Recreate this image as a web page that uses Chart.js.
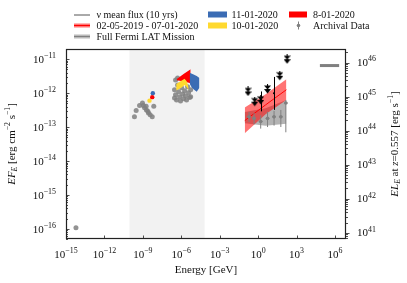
<!DOCTYPE html>
<html>
<head>
<meta charset="utf-8">
<script src="https://cdn.jsdelivr.net/npm/chart.js@4.4.0/dist/chart.umd.min.js"></script>
<style>
  html, body { margin: 0; padding: 0; background: #fff; }
  canvas { display: block; }
</style>
</head>
<body>
<canvas id="sedChart" width="407" height="283"></canvas>
<script>
// energies in GeV, fluxes in erg cm^-2 s^-1
const seriesLabels = ['\u03bd mean flux (10 yrs)', '02-05-2019 - 07-01-2020', 'Full Fermi LAT Mission',
                      '11-01-2020', '10-01-2020', '8-01-2020', 'Archival Data'];

// archival data (radio, optical, X-ray)
const archE = [6.0e-15,
  2.2e-10, 3.0e-10, 5.5e-10, 9.3e-10, 1.1e-9, 1.35e-9, 1.8e-9, 1.9e-9, 2.45e-9, 2.75e-9, 3.7e-9, 5.4e-9, 7.1e-9,
  2.95e-7, 3.55e-7, 4.27e-7, 5.13e-7, 6.17e-7, 7.41e-7, 8.7e-7, 1.05e-6, 1.26e-6, 1.51e-6, 1.82e-6,
  2.14e-6, 2.57e-6, 3.09e-6, 3.72e-6, 4.47e-6, 5.37e-6, 3.55e-7, 5.13e-7, 5.37e-6, 2.95e-7];
const archF = [1.07e-16,
  2.0e-13, 3.1e-13, 4.3e-13, 5.1e-13, 4.3e-13, 3.7e-13, 4.1e-13, 3.2e-13, 2.9e-13, 2.6e-13, 2.3e-13, 2.0e-13, 4.1e-13,
  1.26e-12, 8.9e-13, 6.3e-13, 1.74e-12, 1.10e-12, 7.8e-13, 5.9e-13, 1.45e-12, 9.5e-13, 6.8e-13, 1.17e-12,
  8.3e-13, 6.3e-13, 1.55e-12, 1.02e-12, 7.4e-13, 1.26e-12, 2.45e-12, 2.8e-12, 7.8e-13, 7.2e-13];

// archival gamma-ray points with error bars
const gamE   = [0.195, 0.48, 1.58, 5.4, 17.4, 59, 145];
const gamElo = [0.14, 0.34, 1.1, 3.8, 12.3, 42, 103];
const gamEhi = [0.27, 0.68, 2.2, 7.6, 24.6, 83, 205];
const gamF   = [2.0e-13, 1.8e-13, 1.45e-13, 1.8e-13, 2.0e-13, 2.0e-13, 5.1e-13];
const gamFlo = [1.4e-13, 1.2e-13, 9.0e-14, 1.0e-13, 1.1e-13, 1.0e-13, 7.0e-14];
const gamFhi = [2.8e-13, 2.6e-13, 2.2e-13, 2.8e-13, 3.0e-13, 3.2e-13, 6.3e-13];

// black upper limits and detections
const ulE = [0.162, 0.537, 1.58, 5.37, 49, 182];
const ulF = [1.12e-12, 5.6e-13, 6.3e-13, 1.32e-12, 3.24e-12, 1.0e-11];
const detE = [1.58, 17];
const detF = [6.3e-13, 1.0e-12];
const detFlo = [2.9e-13, 3.2e-13];
const detFhi = [1.12e-12, 3.0e-12];

// Fermi-LAT butterflies
const bowE = [0.09, 3.8, 160];
const redBowUp = [3.8e-13, 9.3e-13, 2.57e-12];
const redBowLo = [6.6e-14, 2.4e-13, 6.3e-13];
const redBowMid = [1.55e-13, 4.5e-13, 1.26e-12];
const greyBowUp = [2.8e-13, 3.6e-13, 6.3e-13];
const greyBowLo = [1.3e-13, 1.1e-13, 1.26e-13];

// neutrino mean flux
const nuE = [6.6e4, 2.1e6];
const nuF = [6.5e-12, 6.5e-12];

// X-ray spectra per epoch
const blueE = [4.5e-6, 6.8e-6, 1.0e-5, 1.6e-5, 2.6e-5];
const blueUp = [4.0e-12, 3.7e-12, 3.5e-12, 3.2e-12, 2.8e-12];
const blueLo = [1.9e-12, 1.45e-12, 1.26e-12, 1.1e-12, 1.45e-12];
const yellowE = [4.0e-7, 1.0e-6, 1.8e-6, 2.7e-6, 3.7e-6];
const yellowUp = [1.85e-12, 2.3e-12, 2.65e-12, 2.2e-12, 1.5e-12];
const yellowLo = [1.2e-12, 1.45e-12, 1.75e-12, 1.5e-12, 1.2e-12];
const redXE = [4.5e-7, 1.6e-6, 5.4e-6];
const redXUp = [2.6e-12, 3.7e-12, 5.1e-12];
const redXLo = [2.4e-12, 2.2e-12, 1.95e-12];

// optical/UV points per epoch
const blueOptE = [6.0e-9], blueOptF = [1.0e-12];
const redOptE = [5.4e-9], redOptF = [7.6e-13];
const yellowOptE = [3.3e-9], yellowOptF = [6.0e-13];

const shadeRange = [9e-11, 6.6e-5];

const xTickVals = [1e-15, 1e-12, 1e-9, 1e-6, 1e-3, 1, 1e3, 1e6];
const xTickLabels = ['10^\u221215', '10^\u221212', '10^\u22129', '10^\u22126', '10^\u22123', '10^0', '10^3', '10^6'];
const yTickVals = [1e-16, 1e-15, 1e-14, 1e-13, 1e-12, 1e-11];
const yTickLabels = ['10^\u221216', '10^\u221215', '10^\u221214', '10^\u221213', '10^\u221212', '10^\u221211'];
const y2TickVals = [1e41, 1e42, 1e43, 1e44, 1e45, 1e46];
const y2TickLabels = ['10^41', '10^42', '10^43', '10^44', '10^45', '10^46'];

const FONT = '"Liberation Serif", "Times New Roman", serif';
const BLUE = '#3b6cb4', YELLOW = '#ffd92f', RED = '#ff0000', GREY = '#808080';

function pts(xs, ys) { return xs.map((x, i) => ({x: x, y: ys[i]})); }

function makeArrow() {
    const c = document.createElement('canvas');
    c.width = 7; c.height = 10;
    const g = c.getContext('2d');
    g.fillStyle = '#000';
    g.fillRect(3, 0, 1, 2);
    g.beginPath(); g.moveTo(0, 1.5); g.lineTo(7, 1.5); g.lineTo(3.5, 5.5); g.closePath(); g.fill();
    g.beginPath(); g.moveTo(0, 5); g.lineTo(7, 5); g.lineTo(3.5, 9.5); g.closePath(); g.fill();
    return c;
}

function partFont(p, size) {
    return (p.it ? 'italic ' : '') + (size * (p.k || 1)).toFixed(2) + 'px ' + FONT;
}

// draws text made of pieces (italic, sub/superscripts); y is the middle of the base text
function drawRich(ctx, parts, size, x, y, align, rot) {
    ctx.save();
    ctx.translate(x, y);
    if (rot) ctx.rotate(rot);
    const widths = parts.map(p => { ctx.font = partFont(p, size); return ctx.measureText(p.t).width; });
    const total = widths.reduce((a, b) => a + b, 0);
    let cx = align === 'right' ? -total : (align === 'left' ? 0 : -total / 2);
    ctx.textAlign = 'left';
    ctx.textBaseline = 'alphabetic';
    ctx.fillStyle = '#111';
    parts.forEach((p, i) => {
        ctx.font = partFont(p, size);
        ctx.fillText(p.t, cx, size * 0.34 + (p.dy || 0) * size);
        cx += widths[i];
    });
    ctx.restore();
}

function powParts(label) {
    const s = label.split('^');
    return [{t: s[0]}, {t: s[1], k: 0.72, dy: -0.45}];
}

const decor = {
    id: 'sedDecor',
    beforeDatasetsDraw(chart) {
        const {ctx, chartArea: a, scales: {x}} = chart;
        const x0 = x.getPixelForValue(shadeRange[0]);
        const x1 = x.getPixelForValue(shadeRange[1]);
        ctx.save();
        ctx.fillStyle = '#f2f2f2';
        ctx.fillRect(x0, a.top, x1 - x0, a.bottom - a.top);
        ctx.restore();
    },
    afterDatasetsDraw(chart) {
        const {ctx, scales: {x, y}} = chart;
        ctx.save();
        ctx.lineWidth = 1;
        ctx.strokeStyle = GREY;
        gamE.forEach((e, i) => {
            const px = x.getPixelForValue(e), py = y.getPixelForValue(gamF[i]);
            ctx.beginPath();
            ctx.moveTo(px, y.getPixelForValue(gamFlo[i])); ctx.lineTo(px, y.getPixelForValue(gamFhi[i]));
            ctx.moveTo(x.getPixelForValue(gamElo[i]), py); ctx.lineTo(x.getPixelForValue(gamEhi[i]), py);
            ctx.stroke();
        });
        ctx.strokeStyle = '#000';
        detE.forEach((e, i) => {
            const px = Math.round(x.getPixelForValue(e)) + 0.5;
            ctx.beginPath();
            ctx.moveTo(px, y.getPixelForValue(detFlo[i])); ctx.lineTo(px, y.getPixelForValue(detFhi[i]));
            ctx.stroke();
        });
        ctx.restore();
    },
    afterDraw(chart) {
        const {ctx, chartArea: a, scales: {x, y, y2}} = chart;
        ctx.save();
        // frame
        ctx.strokeStyle = '#222';
        ctx.lineWidth = 1.2;
        ctx.strokeRect(a.left + 0.5, a.top + 0.5, a.right - a.left - 1, a.bottom - a.top - 1);
        ctx.lineWidth = 0.8;
        ctx.beginPath();
        // bottom ticks (inward)
        xTickVals.forEach(v => {
            const px = Math.round(x.getPixelForValue(v)) + 0.5;
            ctx.moveTo(px, a.bottom); ctx.lineTo(px, a.bottom - 3.5);
        });
        // left ticks (inward) and right ticks (outward), major + minor
        for (let k = -17; k <= -10; k++) {
            for (let m = 1; m <= 9; m++) {
                const v = m * Math.pow(10, k);
                if (v < y.min || v > y.max) continue;
                const py = Math.round(y.getPixelForValue(v)) + 0.5;
                ctx.moveTo(a.left, py); ctx.lineTo(a.left + (m === 1 ? 3.5 : 2), py);
            }
        }
        for (let k = 40; k <= 46; k++) {
            for (let m = 1; m <= 9; m++) {
                const v = m * Math.pow(10, k);
                if (v < y2.min || v > y2.max) continue;
                const py = Math.round(y2.getPixelForValue(v)) + 0.5;
                ctx.moveTo(a.right, py); ctx.lineTo(a.right + (m === 1 ? 3.5 : 2), py);
            }
        }
        ctx.stroke();

        // tick labels
        xTickVals.forEach((v, i) => drawRich(ctx, powParts(xTickLabels[i]), 11, x.getPixelForValue(v), 254, 'center'));
        yTickVals.forEach((v, i) => drawRich(ctx, powParts(yTickLabels[i]), 11, 56, y.getPixelForValue(v), 'right'));
        y2TickVals.forEach((v, i) => drawRich(ctx, powParts(y2TickLabels[i]), 11, 357, y2.getPixelForValue(v), 'left'));

        // axis titles
        drawRich(ctx, [{t: 'Energy [GeV]'}], 11, (a.left + a.right) / 2, 269, 'center');
        drawRich(ctx, [{t: 'EF', it: true}, {t: 'E', it: true, k: 0.7, dy: 0.25}, {t: ' [erg cm'},
            {t: '\u22122', k: 0.7, dy: -0.45}, {t: ' s'}, {t: '\u22121', k: 0.7, dy: -0.45}, {t: ']'}],
            11, 11, (a.top + a.bottom) / 2, 'center', -Math.PI / 2);
        drawRich(ctx, [{t: 'EL', it: true}, {t: 'E', it: true, k: 0.7, dy: 0.25}, {t: ' at '}, {t: 'z', it: true},
            {t: '=0.557 [erg s'}, {t: '\u22121', k: 0.7, dy: -0.45}, {t: ']'}],
            11, 394, (a.top + a.bottom) / 2, 'center', -Math.PI / 2);

        // legend (three columns)
        const rows = [14.5, 25.5, 36.5];
        const lf = 10;
        ctx.lineWidth = 1;
        ctx.strokeStyle = '#555';
        ctx.beginPath(); ctx.moveTo(74, rows[0] + 0.5); ctx.lineTo(90, rows[0] + 0.5); ctx.stroke();
        ctx.fillStyle = 'rgba(255,0,0,0.55)';
        ctx.fillRect(74, rows[1] - 2, 16, 4);
        ctx.strokeStyle = RED;
        ctx.beginPath(); ctx.moveTo(74, rows[1]); ctx.lineTo(90, rows[1]); ctx.stroke();
        ctx.fillStyle = 'rgba(128,128,128,0.55)';
        ctx.fillRect(74, rows[2] - 2, 16, 4);
        ctx.strokeStyle = GREY;
        ctx.beginPath(); ctx.moveTo(74, rows[2]); ctx.lineTo(90, rows[2]); ctx.stroke();
        ctx.fillStyle = BLUE; ctx.fillRect(208, rows[0] - 3, 19, 6);
        ctx.fillStyle = YELLOW; ctx.fillRect(208, rows[1] - 3, 19, 6);
        ctx.fillStyle = RED; ctx.fillRect(289, rows[0] - 3, 18, 6);
        ctx.strokeStyle = GREY;
        ctx.beginPath(); ctx.moveTo(298.5, rows[1] - 4); ctx.lineTo(298.5, rows[1] + 4); ctx.stroke();
        ctx.fillStyle = GREY;
        ctx.beginPath(); ctx.arc(298.5, rows[1], 1.8, 0, Math.PI * 2); ctx.fill();

        drawRich(ctx, [{t: seriesLabels[0]}], lf, 96.5, rows[0], 'left');
        drawRich(ctx, [{t: seriesLabels[1]}], lf, 96.5, rows[1], 'left');
        drawRich(ctx, [{t: seriesLabels[2]}], lf, 96.5, rows[2], 'left');
        drawRich(ctx, [{t: seriesLabels[3]}], lf, 231.5, rows[0], 'left');
        drawRich(ctx, [{t: seriesLabels[4]}], lf, 231.5, rows[1], 'left');
        drawRich(ctx, [{t: seriesLabels[5]}], lf, 313, rows[0], 'left');
        drawRich(ctx, [{t: seriesLabels[6]}], lf, 313, rows[1], 'left');
        ctx.restore();
    }
};

const band = (label, xs, ys, color, order) => ({
    label: label, data: pts(xs, ys), borderWidth: 0, pointRadius: 0,
    fill: '+1', backgroundColor: color, order: order
});
const edge = (xs, ys, order) => ({
    label: '', data: pts(xs, ys), borderWidth: 0, pointRadius: 0, fill: false, order: order
});
const dots = (label, xs, ys, color, r, order) => ({
    label: label, data: pts(xs, ys), showLine: false, pointRadius: r, pointBorderWidth: 0,
    backgroundColor: color, borderColor: color, order: order
});

const ctx = document.getElementById('sedChart').getContext('2d');
const sedChart = new Chart(ctx, {
    type: 'line',
    data: {
        datasets: [
            band(seriesLabels[2], bowE, greyBowUp, 'rgba(128,128,128,0.6)', 20),
            edge(bowE, greyBowLo, 20),
            band(seriesLabels[1], bowE, redBowUp, 'rgba(255,0,0,0.55)', 18),
            edge(bowE, redBowLo, 18),
            {label: seriesLabels[1], data: pts(bowE, redBowMid), borderColor: RED, borderWidth: 1,
             pointRadius: 0, fill: false, order: 17},
            {label: seriesLabels[0], data: pts(nuE, nuF), borderColor: GREY, borderWidth: 3,
             pointRadius: 0, fill: false, order: 16},
            dots(seriesLabels[6], archE, archF, 'rgba(128,128,128,0.85)', 2.5, 15),
            dots(seriesLabels[6], gamE, gamF, GREY, 1.8, 14),
            band(seriesLabels[5], redXE, redXUp, RED, 11),
            edge(redXE, redXLo, 11),
            band(seriesLabels[4], yellowE, yellowUp, YELLOW, 10),
            edge(yellowE, yellowLo, 10),
            band(seriesLabels[3], blueE, blueUp, BLUE, 8),
            edge(blueE, blueLo, 8),
            dots(seriesLabels[4], yellowOptE, yellowOptF, YELLOW, 2.2, 6),
            dots(seriesLabels[5], redOptE, redOptF, RED, 2.2, 5),
            dots(seriesLabels[3], blueOptE, blueOptF, BLUE, 2.2, 4),
            dots('detections', detE, detF, '#000', 1, 2),
            {label: 'upper limits', data: pts(ulE, ulF), showLine: false, pointStyle: makeArrow(),
             pointRadius: 4, order: 1}
        ]
    },
    options: {
        responsive: false,
        animation: false,
        devicePixelRatio: 1,
        layout: { padding: { top: 49, left: 0, right: 0, bottom: 0 } },
        elements: { line: { tension: 0 } },
        plugins: {
            legend: { display: false },
            tooltip: { enabled: false },
            filler: { propagate: false }
        },
        scales: {
            x: {
                type: 'logarithmic', min: 1e-15, max: 7.2e6,
                grid: { display: false, drawTicks: false }, border: { display: false },
                ticks: { display: false },
                afterFit: function (s) { s.height = 44; }
            },
            y: {
                type: 'logarithmic', position: 'left', min: 5.2e-17, max: 2.0e-11,
                grid: { display: false, drawTicks: false }, border: { display: false },
                ticks: { display: false },
                afterFit: function (s) { s.width = 66; }
            },
            y2: {
                type: 'logarithmic', position: 'right', min: 6.55e40, max: 2.52e46,
                grid: { display: false, drawTicks: false }, border: { display: false },
                ticks: { display: false },
                afterFit: function (s) { s.width = 61; }
            }
        }
    },
    plugins: [decor]
});
</script>
</body>
</html>
